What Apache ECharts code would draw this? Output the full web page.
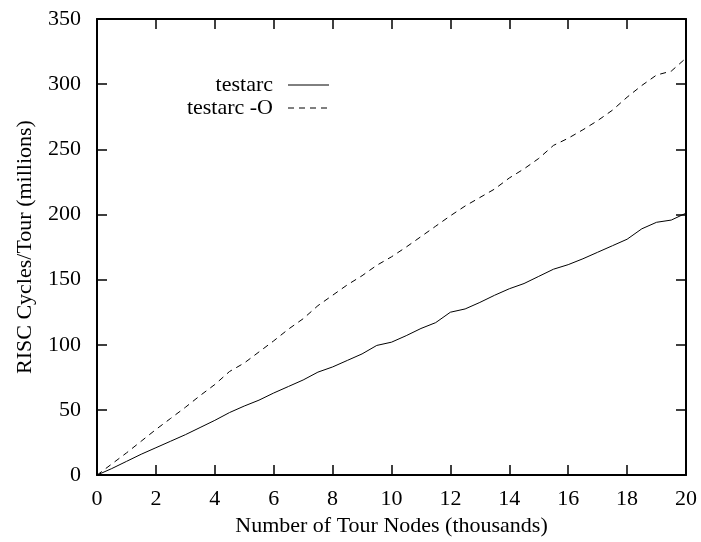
<!DOCTYPE html>
<html>
<head>
<meta charset="utf-8">
<script src="https://cdn.jsdelivr.net/npm/echarts@6/dist/echarts.min.js"></script>
<style>html,body{margin:0;padding:0;background:#fff}#c{width:701px;height:542px}</style>
</head>
<body>
<div id="c"></div>
<script>
var xNodes = [0,0.5,1,1.5,2,2.5,3,3.5,4,4.5,5,5.5,6,6.5,7,7.5,8,8.5,9,9.5,10,10.5,11,11.5,12,12.5,13,13.5,14,14.5,15,15.5,16,16.5,17,17.5,18,18.5,19,19.5,20];
var testarc = [0,5,10.5,16,21,26,31,36.5,42,48,53,57.5,63,68,73,79,83,88,93,99.5,102,107,112.5,117,125,127.5,132.5,138,143,147,152.5,158,161.5,166,171,176,181,189,194,195.7,201];
var testarcO = [0,8.5,17,26,35,43.5,52,61,69.5,79.5,86,94.5,103,112,120,130,138,146,153,161,167.5,175,183,191,199,206.5,213,219.5,228,235,243,253,258.5,265,272,280,290,299,307,310,320];
var seriesNames = ['testarc', 'testarc -O'];
var xTicks = [0,2,4,6,8,10,12,14,16,18,20];
var yTicks = [0,50,100,150,200,250,300,350];

var FONT = '"Liberation Serif","DejaVu Serif",serif';
var chart = echarts.init(document.getElementById('c'), null, {renderer:'canvas'});
function pairs(xs, ys){ return xs.map(function(x,i){return [x, ys[i]];}); }
var axisCommon = {
  axisLine:{show:true, onZero:false, lineStyle:{color:'#000', width:2}},
  axisTick:{show:true, inside:true, length:10, lineStyle:{color:'#000', width:1.5}},
  splitLine:{show:false}
};
chart.setOption({
  animation:false,
  backgroundColor:'#fff',
  grid:{left:97, right:15, top:19, bottom:61, containLabel:false},
  xAxis:[
    Object.assign({type:'value', position:'bottom', min:0, max:20, interval:2,
      name:'Number of Tour Nodes (thousands)', nameLocation:'middle', nameGap:35,
      nameTextStyle:{fontFamily:FONT, fontSize:22, color:'#000'},
      axisLabel:{fontFamily:FONT, fontSize:22, color:'#000', margin:13,
        formatter:function(v){return xTicks.indexOf(v)>=0 ? String(v) : '';}}}, axisCommon),
    Object.assign({type:'value', position:'top', min:0, max:20, interval:2,
      axisLabel:{show:false}}, axisCommon)
  ],
  yAxis:[
    Object.assign({type:'value', position:'left', min:0, max:350, interval:50,
      name:'RISC Cycles/Tour (millions)', nameLocation:'middle', nameGap:61, nameRotate:90,
      nameTextStyle:{fontFamily:FONT, fontSize:22, color:'#000'},
      axisLabel:{fontFamily:FONT, fontSize:22, color:'#000', margin:16,
        formatter:function(v){return yTicks.indexOf(v)>=0 ? String(v) : '';}}}, axisCommon),
    Object.assign({type:'value', position:'right', min:0, max:350, interval:50,
      axisLabel:{show:false}}, axisCommon)
  ],
  series:[
    {name:seriesNames[0], type:'line', data:pairs(xNodes, testarc), showSymbol:false, smooth:false,
     lineStyle:{color:'#000', width:1}, z:3},
    {name:seriesNames[1], type:'line', data:pairs(xNodes, testarcO), showSymbol:false, smooth:false,
     lineStyle:{color:'#000', width:1, type:[6,5]}, z:3}
  ],
  graphic:[
    {type:'text', right:701-273, top:74, style:{text:seriesNames[0], font:'22px '+FONT, fill:'#000', textAlign:'right'}},
    {type:'text', right:701-273, top:97, style:{text:seriesNames[1], font:'22px '+FONT, fill:'#000', textAlign:'right'}},
    {type:'line', shape:{x1:288, y1:85, x2:329, y2:85}, style:{stroke:'#000', lineWidth:1}},
    {type:'line', shape:{x1:288, y1:108, x2:329, y2:108}, style:{stroke:'#000', lineWidth:1, lineDash:[6,5]}}
  ]
});
</script>
</body>
</html>
